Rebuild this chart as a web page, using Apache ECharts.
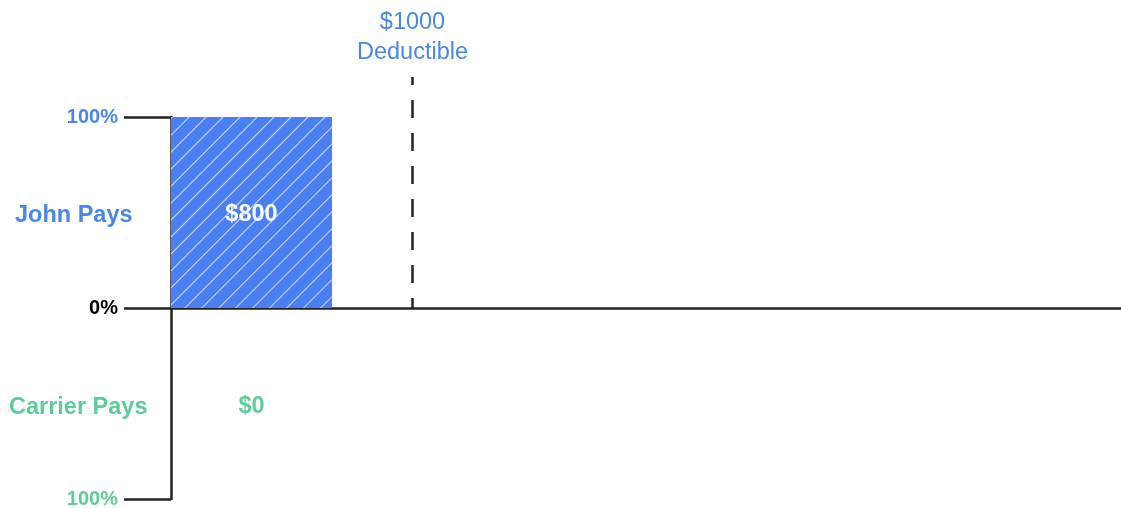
<!DOCTYPE html>
<html>
<head>
<meta charset="utf-8">
<script src="https://cdn.jsdelivr.net/npm/echarts@6/dist/echarts.min.js"></script>
<style>html,body{margin:0;padding:0;background:#fff;}#c{width:1121px;height:508px;}</style>
</head>
<body>
<div id="c"></div>
<script>
// ---- data ----
var categories = ['Spend', 'Deductible', 'S3', 'S4', 'S5', 'S6'];
var johnPaysPct = [100];           // share of cost John pays in first stage (%)
var johnPaysAmount = ['$800'];
var carrierPaysAmount = ['$0'];
var carrierLabelPct = [-50];       // where the carrier amount sits
var deductibleCategory = 'Deductible';
var deductibleLine = [121, 0];     // extent of the deductible marker (%)
var deductibleText = '$1000\nDeductible';

var BLUE = '#4a86e8', BAR = '#4a7ff2', GREEN = '#5fcc97', DARK = '#222';
var FONT = "'Liberation Sans', Arial, sans-serif";

var chart = echarts.init(document.getElementById('c'));
chart.setOption({
  animation: false,
  textStyle: { fontFamily: FONT },
  grid: { left: 171, width: 966, top: 117, bottom: 9, containLabel: false, outerBoundsMode: 'none' },
  xAxis: {
    type: 'category', data: categories, boundaryGap: true,
    axisLine: { onZero: true, lineStyle: { color: DARK, width: 2.5 } },
    axisTick: { show: false }, axisLabel: { show: false }, splitLine: { show: false }
  },
  yAxis: {
    type: 'value', min: -100, max: 100, interval: 100,
    axisLine: { show: true, lineStyle: { color: DARK, width: 2.5 } },
    axisTick: { show: true, length: 47, lineStyle: { color: DARK, width: 2.5 } },
    splitLine: { show: false },
    axisLabel: {
      margin: 53, fontFamily: FONT,
      formatter: function (v) {
        if (v === 100) return '{b|100%}';
        if (v === 0) return '{k|0%}';
        if (v === -100) return '{g|100%}';
        return '';
      },
      rich: {
        b: { color: BLUE, fontSize: 20, fontWeight: 'bold', fontFamily: FONT },
        k: { color: '#000', fontSize: 20, fontWeight: 'bold', fontFamily: FONT },
        g: { color: GREEN, fontSize: 20, fontWeight: 'bold', fontFamily: FONT }
      }
    }
  },
  graphic: [
    { type: 'text', left: 15, top: 204, style: { text: 'John Pays', fill: BLUE, font: "bold 23.5px 'Liberation Sans', Arial, sans-serif" } },
    { type: 'text', left: 9, top: 396, style: { text: 'Carrier Pays', fill: GREEN, font: "bold 23.5px 'Liberation Sans', Arial, sans-serif" } }
  ],
  series: [
    {
      type: 'bar', barCategoryGap: '0%',
      data: johnPaysPct,
      itemStyle: {
        color: BAR,
        decal: {
          symbol: 'rect', symbolSize: 1, color: 'rgba(255,255,255,0.7)',
          dashArrayX: [1, 0], dashArrayY: [1, 11], rotation: -Math.PI / 4
        }
      },
      label: {
        show: true, position: 'inside', offset: [0, 2], color: '#fff', fontSize: 23.5, fontWeight: 'bold', fontFamily: FONT,
        formatter: function (p) { return johnPaysAmount[p.dataIndex]; }
      },
      z: 1
    },
    {
      type: 'scatter', symbolSize: 0, itemStyle: { opacity: 1 },
      data: carrierLabelPct.map(function (v, i) { return [categories[i], v]; }),
      label: {
        show: true, position: 'inside', offset: [0, 3], color: GREEN, fontSize: 23.5, fontWeight: 'bold', fontFamily: FONT,
        formatter: function (p) { return carrierPaysAmount[p.dataIndex]; }
      }
    },
    {
      type: 'line', clip: false, symbol: 'none',
      data: deductibleLine.map(function (v) { return [deductibleCategory, v]; }),
      lineStyle: { color: DARK, width: 2.5, type: [18, 15], dashOffset: 10 },
      z: 3
    },
    {
      type: 'scatter', symbolSize: 0, clip: false, itemStyle: { opacity: 1, color: BLUE },
      data: [[deductibleCategory, deductibleLine[0]]],
      label: {
        show: true, position: 'top', distance: 9, formatter: deductibleText,
        color: BLUE, fontSize: 23.5, lineHeight: 30, fontFamily: FONT, align: 'center'
      }
    }
  ]
});
</script>
</body>
</html>
